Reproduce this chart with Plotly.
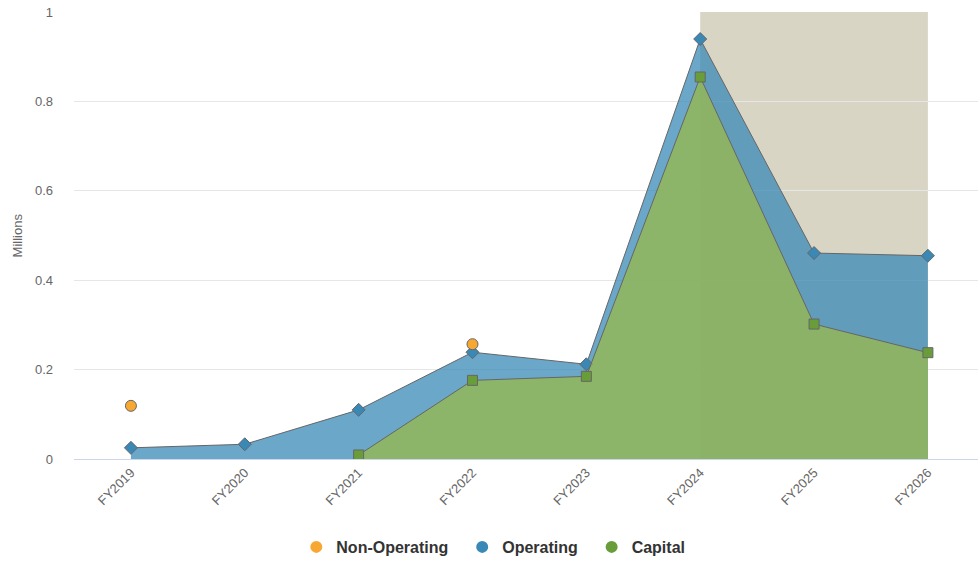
import plotly.graph_objects as go

categories = ["FY2019", "FY2020", "FY2021", "FY2022", "FY2023", "FY2024", "FY2025", "FY2026"]
non_operating = [0.119, None, None, 0.257, None, None, None, None]
operating = [0.025, 0.033, 0.110, 0.239, 0.212, 0.940, 0.461, 0.455]
capital = [None, None, 0.009, 0.176, 0.185, 0.855, 0.302, 0.238]
y_ticks = [0, 0.2, 0.4, 0.6, 0.8, 1]
y_tick_labels = ["0", "0.2", "0.4", "0.6", "0.8", "1"]
legend_names = ["Non-Operating", "Operating", "Capital"]
band_start, band_end = "FY2024", "FY2026"

C_NON = "#f7a833"
C_OP = "#3a88b6"
C_CAP = "#689d39"
EDGE = "#666666"

fig = go.Figure()

fig.add_trace(go.Scatter(
    x=categories, y=operating, mode="lines+markers", fill="tozeroy",
    fillcolor="rgba(56,138,183,0.75)", line=dict(color=EDGE, width=1),
    marker=dict(symbol="diamond", size=10, color=C_OP, line=dict(color=EDGE, width=1)),
    showlegend=False, connectgaps=False))

fig.add_trace(go.Scatter(
    x=categories, y=capital, mode="lines+markers", fill="tozeroy",
    fillcolor="rgba(153,186,74,0.75)", line=dict(color=EDGE, width=1),
    marker=dict(symbol="square", size=10, color=C_CAP, line=dict(color=EDGE, width=1)),
    showlegend=False, connectgaps=False))

fig.add_trace(go.Scatter(
    x=categories, y=non_operating, mode="markers",
    marker=dict(symbol="circle", size=11, color=C_NON, line=dict(color=EDGE, width=1)),
    showlegend=False))

for name, col in zip(legend_names, [C_NON, C_OP, C_CAP]):
    fig.add_trace(go.Scatter(x=[None], y=[None], mode="markers", name=name + "\u00a0\u00a0",
                             marker=dict(symbol="circle", size=16, color=col)))

fig.add_shape(type="rect", xref="x", yref="y domain", x0=band_start, x1=band_end,
              y0=0, y1=1, fillcolor="#d9d5c5", line=dict(width=0), layer="below")

fig.add_annotation(text="Millions", xref="paper", yref="paper", x=-0.062, y=0.5,
                   xanchor="center", yanchor="middle", textangle=-90, showarrow=False,
                   font=dict(size=13, color="#666666"))

fig.update_layout(
    width=978, height=561,
    margin=dict(l=74, r=0, t=11.5, b=101.5, autoexpand=False),
    paper_bgcolor="white", plot_bgcolor="white",
    font=dict(family="Liberation Sans, Arial, sans-serif", color="#666666", size=13),
    xaxis=dict(
        categoryorder="array", categoryarray=categories, automargin=False,
        range=[-0.5, 7.44], tickangle=-45, showgrid=False,
        showline=True, linecolor="#ccd6eb", linewidth=1, ticks="",
        tickfont=dict(size=13, color="#666666"), zeroline=False,
    ),
    yaxis=dict(
        range=[0, 1.0005], tickvals=y_ticks, ticktext=y_tick_labels, automargin=False,
        gridcolor="#e6e6e6", gridwidth=1, zeroline=False, showline=False,
        tickfont=dict(size=13, color="#666666"), ticklabelstandoff=20,
        ticklabeloverflow="allow",
    ),
    legend=dict(
        orientation="h", xref="container", x=0.509, xanchor="center",
        yref="container", y=0.025, yanchor="middle",
        font=dict(size=16, color="#333333", family="Liberation Sans, Arial, sans-serif", weight="bold"),
        itemsizing="constant",
    ),
)

fig.write_html("out.html", config={"displayModeBar": False},
               post_script="document.body.style.margin='0';")
